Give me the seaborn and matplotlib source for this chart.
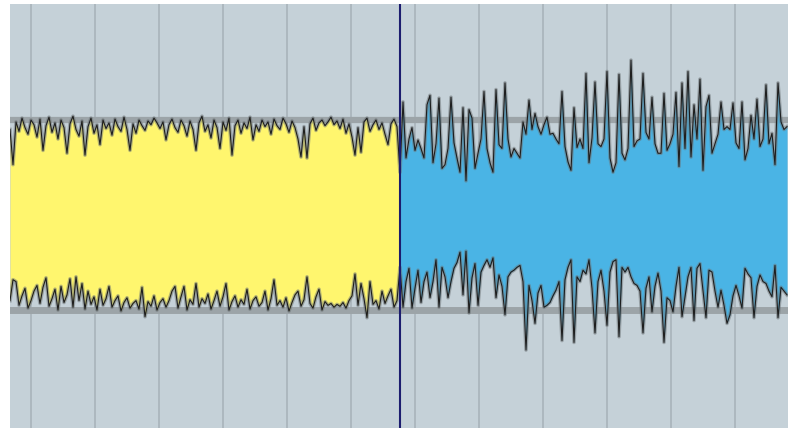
import numpy as np
import pandas as pd
import seaborn as sns
import matplotlib.pyplot as plt

# envelope of the waveform, every ~3 px (clip level = +/-1)
yellow_upper = [
    0.90, 0.53, 0.98, 0.88, 1.02, 0.92, 0.85, 1.00, 0.95, 0.82,
    1.01, 0.68, 0.94, 1.03, 0.87, 0.97, 0.80, 1.00, 0.92, 0.65,
    0.96, 1.04, 0.90, 0.83, 0.99, 0.63, 0.93, 1.02, 0.86, 0.95,
    0.74, 1.00, 0.91, 0.97, 0.84, 1.01, 0.93, 0.88, 1.03, 0.90,
    0.68, 0.96, 0.86, 1.00, 0.94, 0.89, 0.99, 0.95, 1.02, 0.97,
    0.91, 0.98, 0.79, 0.95, 1.01, 0.92, 0.87, 1.00, 0.94, 0.83,
    0.99, 0.90, 0.68, 0.97, 1.04, 0.88, 0.95, 0.81, 1.00, 0.92,
    0.70, 0.98, 0.89, 1.02, 0.63, 0.94, 1.00, 0.86, 0.97, 0.91,
    1.03, 0.79, 0.95, 0.88, 1.00, 0.93, 0.98, 0.85, 1.01, 0.94,
    0.90, 1.02, 0.96, 0.87, 0.99, 0.92, 0.80, 0.61, 0.93, 0.60,
    0.96, 1.02, 0.89, 0.97, 1.00, 0.94, 0.98, 1.03, 0.95, 0.99,
    0.91, 1.01, 0.86, 0.96, 0.82, 0.63, 0.92, 0.66, 0.98, 1.02,
    0.88, 0.95, 1.00, 0.90, 0.97, 0.85, 0.74, 0.96, 1.01, 0.93,
]
yellow_lower = [
    -0.90, -0.68, -0.70, -0.95, -0.85, -0.77, -0.98, -0.90, -0.80, -0.74,
    -0.93, -0.76, -0.66, -0.96, -0.88, -0.78, -1.00, -0.75, -0.92, -0.84,
    -0.67, -0.97, -0.65, -0.90, -0.72, -0.99, -0.80, -0.94, -0.86, -1.00,
    -0.78, -0.95, -0.88, -0.75, -0.97, -0.90, -0.85, -1.01, -0.92, -0.87,
    -0.98, -0.93, -0.90, -0.99, -0.76, -1.07, -0.91, -0.96, -0.85, -1.00,
    -0.92, -0.88, -0.97, -0.90, -0.80, -0.75, -0.98, -0.86, -0.75, -1.00,
    -0.89, -0.94, -0.72, -0.97, -0.88, -0.93, -0.83, -0.99, -0.90, -0.80,
    -0.96, -0.86, -0.72, -1.00, -0.91, -0.85, -0.97, -0.89, -0.94, -0.78,
    -0.99, -0.90, -0.86, -0.96, -0.92, -0.80, -1.00, -0.88, -0.68, -0.95,
    -0.90, -0.97, -0.87, -1.01, -0.92, -0.84, -0.80, -0.96, -0.89, -0.65,
    -0.93, -0.98, -0.86, -0.78, -1.00, -0.91, -0.95, -0.93, -0.97, -0.94,
    -0.96, -0.92, -0.98, -0.90, -0.85, -0.62, -0.95, -0.72, -0.88, -1.08,
    -0.70, -0.94, -0.90, -0.99, -0.80, -0.93, -0.85, -0.78, -0.97, -0.90,
]
blue_upper = [
    0.45, 1.19, 0.60, 0.80, 0.92, 0.68, 0.79, 0.70, 0.60, 1.16,
    1.26, 0.55, 0.75, 1.23, 0.49, 0.53, 0.70, 1.24, 0.76, 0.60,
    0.45, 1.13, 0.36, 1.11, 1.02, 0.49, 0.65, 0.80, 1.30, 0.70,
    0.55, 0.45, 1.32, 0.74, 0.70, 1.39, 0.80, 0.61, 0.70, 0.65,
    0.60, 0.98, 0.85, 1.21, 0.90, 1.07, 0.93, 0.85, 0.95, 1.03,
    0.85, 0.86, 0.80, 0.75, 1.30, 0.72, 0.56, 0.47, 1.13, 0.71,
    0.80, 0.70, 1.49, 0.55, 0.81, 1.40, 0.75, 0.72, 0.80, 1.51,
    0.60, 0.45, 0.55, 1.48, 0.65, 0.58, 0.70, 1.63, 0.72, 0.78,
    0.80, 1.49, 0.87, 0.80, 1.24, 0.75, 0.65, 0.65, 1.28, 0.68,
    0.75, 0.85, 1.29, 0.51, 1.39, 0.70, 1.51, 0.61, 1.16, 0.80,
    1.43, 0.47, 1.14, 1.26, 0.65, 0.75, 0.85, 1.19, 0.90, 0.93,
    0.90, 1.18, 0.76, 0.70, 1.19, 0.58, 0.70, 1.05, 0.80, 1.22,
    0.72, 0.80, 1.37, 0.75, 0.86, 0.53, 1.39, 0.98, 0.90, 0.93,
]
blue_lower = [
    -0.55, -0.97, -0.70, -0.56, -0.98, -0.77, -0.58, -0.92, -0.70, -0.60,
    -0.87, -0.70, -0.47, -0.97, -0.55, -0.65, -0.87, -0.70, -0.56, -0.50,
    -0.39, -0.84, -0.38, -1.03, -0.66, -0.51, -0.95, -0.60, -0.53, -0.47,
    -0.55, -0.45, -0.87, -0.63, -0.75, -1.05, -0.65, -0.60, -0.58, -0.55,
    -0.53, -0.70, -1.42, -0.74, -0.90, -1.14, -0.82, -0.74, -0.97, -0.95,
    -0.92, -0.85, -0.79, -0.70, -1.32, -0.68, -0.55, -0.47, -1.34, -0.65,
    -0.70, -0.58, -0.62, -0.47, -0.77, -1.24, -0.70, -0.58, -0.80, -1.16,
    -0.60, -0.49, -0.47, -1.28, -0.55, -0.60, -0.55, -0.65, -0.72, -0.74,
    -0.80, -1.24, -0.77, -0.65, -1.02, -0.75, -0.61, -0.80, -1.34, -0.87,
    -0.90, -1.02, -0.75, -0.55, -1.07, -0.86, -0.65, -0.55, -1.11, -0.56,
    -0.51, -0.80, -1.08, -0.58, -0.60, -0.80, -0.97, -0.79, -0.95, -1.14,
    -1.05, -0.85, -0.74, -0.85, -0.98, -0.56, -0.62, -0.66, -1.08, -0.75,
    -0.63, -0.70, -0.72, -0.80, -0.86, -0.53, -1.08, -0.76, -0.80, -0.84,
]

upper = np.array(yellow_upper + blue_upper)
lower = np.array(yellow_lower + blue_lower)
x = np.arange(len(upper))
split = len(yellow_upper)
df = pd.DataFrame({"x": x, "upper": upper, "lower": lower})

fig = plt.figure(figsize=(7.88, 4.28), dpi=100)
ax = fig.add_axes([10 / 788, 0, 778 / 788, 424 / 428])
ax.set_facecolor("#c5d1d8")

# vertical grid lines (every 64 px) and the clip-level bands
for gx in np.arange(7, 260, 64 / 3):
    ax.axvline(gx, color="#adb8bf", lw=1.4, zorder=1)
ax.axhline(1.0, color="#9ca4a8", lw=4.5, zorder=2)
ax.axhline(-1.0, color="#9ca4a8", lw=5.0, zorder=2)

# the two regions of the waveform
ax.fill_between(x[:split + 1], lower[:split + 1], upper[:split + 1],
                color="#fff66e", lw=0, zorder=3)
ax.fill_between(x[split:], lower[split:], upper[split:],
                color="#4ab4e5", lw=0, zorder=3)

# outline: soft grey halo + dark thin edge
for col in ["upper", "lower"]:
    sns.lineplot(data=df, x="x", y=col, ax=ax, sort=False, estimator=None,
                 color="#6a7174", lw=2.6, alpha=0.5, zorder=4)
    sns.lineplot(data=df, x="x", y=col, ax=ax, sort=False, estimator=None,
                 color="#1e1e1e", lw=0.8, zorder=5)

# play cursor
ax.axvline(split, color="#1c1c6e", lw=1.5, zorder=6)

ax.set_xlim(0, 778 / 3)
ax.set_ylim(-2.24, 2.22)
ax.set_xticks([])
ax.set_yticks([])
ax.set_xlabel("")
ax.set_ylabel("")
for s in ax.spines.values():
    s.set_visible(False)

fig.savefig("out.png", dpi=100, facecolor="white")
